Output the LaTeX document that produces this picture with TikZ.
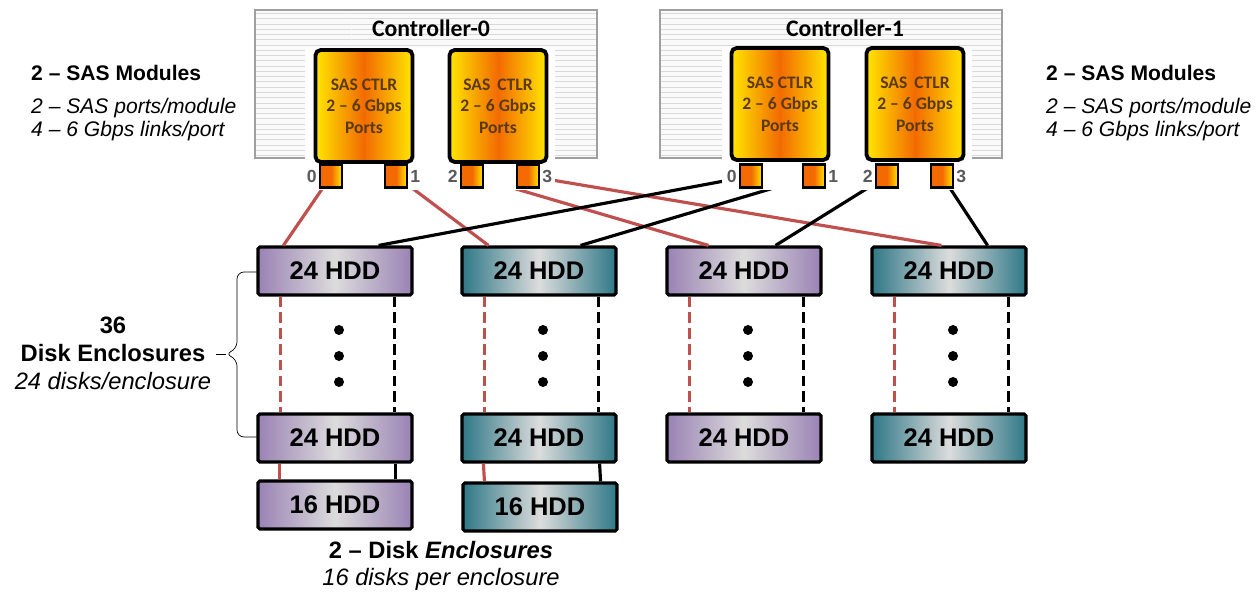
\documentclass[tikz,border=0pt]{standalone}
\usepackage{fontspec}
\setmainfont{Liberation Sans}
\newfontfamily\ctlrfont{Carlito}
\usetikzlibrary{calc,patterns}
\definecolor{linkred}{HTML}{C0504D}
\definecolor{encpurple}{HTML}{9A82B4}
\definecolor{encteal}{HTML}{2F7887}
\definecolor{encgray}{HTML}{DCDCDC}
\definecolor{modedge}{HTML}{FFE600}
\definecolor{modmid}{HTML}{F26A00}
\definecolor{ctlrtext}{HTML}{5A3A0C}

\begin{document}
\begin{tikzpicture}[x=0.02cm,y=-0.02cm,
  enc/.style={draw=black,line width=1.8pt,rounded corners=1pt,minimum width=3.08cm,minimum height=0.96cm,inner sep=0pt,font=\bfseries\fontsize{14.5}{16}\selectfont},
  encA/.style={enc,left color=encpurple,right color=encpurple,middle color=encgray},
  encB/.style={enc,left color=encteal,right color=encteal,middle color=encgray},
  ctlrbox/.style={draw=gray!75,line width=1pt,minimum width=6.84cm,minimum height=2.96cm,inner sep=0pt,
    preaction={fill=gray!4},pattern=horizontal lines,pattern color=gray!30},
  sasmod/.style={draw=black,line width=2.2pt,rounded corners=3pt,minimum width=1.94cm,minimum height=2.24cm,
    left color=modedge,right color=modedge,middle color=modmid,align=center,text=ctlrtext,
    font=\ctlrfont\bfseries\fontsize{10}{12.2}\selectfont},
  port/.style={draw=black,line width=1.5pt,minimum width=0.44cm,minimum height=0.46cm,inner sep=0pt,
    left color=modmid,right color=modedge,middle color=modmid},
  portlbl/.style={text=gray!70!black,font=\bfseries\fontsize{10}{12}\selectfont,inner sep=1pt},
  redlink/.style={draw=linkred,line width=1.8pt},
  blklink/.style={draw=black,line width=1.8pt},
  dashlink/.style={dash pattern=on 6pt off 3pt},
  note/.style={align=left,anchor=west,font=\fontsize{12}{13}\selectfont}
]
\useasboundingbox (0,0) rectangle (1260,594);

\node[encA] (e1a) at (335,271) {24 HDD};
\node[encB] (e2a) at (539,271) {24 HDD};
\node[encA] (e3a) at (744,271) {24 HDD};
\node[encB] (e4a) at (949,271) {24 HDD};
\node[encA] (e1b) at (335,438) {24 HDD};
\node[encB] (e2b) at (539,438) {24 HDD};
\node[encA] (e3b) at (744,438) {24 HDD};
\node[encB] (e4b) at (949,438) {24 HDD};
\node[encA] (e1c) at (335,505) {16 HDD};
\node[encB] (e2c) at (540,507) {16 HDD};

\node[ctlrbox] (c0) at (426,84) {};
\node[ctlrbox] (c1) at (831,84) {};
\node[font=\ctlrfont\bfseries\fontsize{13.5}{15}\selectfont] at (431,28) {Controller-0};
\node[font=\ctlrfont\bfseries\fontsize{13.5}{15}\selectfont] at (845,28) {Controller-1};

\coordinate (c0p0) at (331,176);
\coordinate (c0p1) at (396,176);
\coordinate (c0p2) at (472,176);
\coordinate (c0p3) at (528,176);
\coordinate (c1p0) at (751,176);
\coordinate (c1p1) at (814,176);
\coordinate (c1p2) at (887,176);
\coordinate (c1p3) at (942,176);

\draw[redlink] (c0p0) -- ([xshift=0.54cm]e1a.north west);
\draw[redlink] (c0p1) -- ([xshift=0.56cm]e2a.north west);
\draw[redlink] (c0p2) -- ([xshift=0.86cm]e3a.north west);
\draw[redlink] (c0p3) -- ([xshift=1.42cm]e4a.north west);
\draw[blklink] (c1p0) -- ([xshift=-0.7cm]e1a.north east);
\draw[blklink] (c1p1) -- ([xshift=-0.74cm]e2a.north east);
\draw[blklink] (c1p2) -- ([xshift=-0.94cm]e3a.north east);
\draw[blklink] (c1p3) -- ([xshift=-0.8cm]e4a.north east);

\fill[white] (305,48) rectangle (555,190);
\fill[white] (722,48) rectangle (972,190);

\node[sasmod] (c0m0) at (364,106) {SAS CTLR\\2 – 6 Gbps\\Ports};
\node[sasmod] (c0m1) at (498,106) {SAS \,CTLR\\2 – 6 Gbps\\Ports};
\node[sasmod] (c1m0) at (780,104) {SAS CTLR\\2 – 6 Gbps\\Ports};
\node[sasmod] (c1m1) at (915,104) {SAS \,CTLR\\2 – 6 Gbps\\Ports};

\node[port,label={[portlbl]left:0}] at (c0p0) {};
\node[port,label={[portlbl]right:1}] at (c0p1) {};
\node[port,label={[portlbl]left:2}] at (c0p2) {};
\node[port,label={[portlbl]right:3}] at (c0p3) {};
\node[port,label={[portlbl]left:0}] at (c1p0) {};
\node[port,label={[portlbl]right:1}] at (c1p1) {};
\node[port,label={[portlbl]left:2}] at (c1p2) {};
\node[port,label={[portlbl]right:3}] at (c1p3) {};

\foreach \c in {1,2,3,4} {
  \draw[redlink,dashlink] ([xshift=0.48cm]e\c a.south west) -- ([xshift=0.48cm]e\c b.north west);
  \draw[blklink,dashlink] ([xshift=-0.38cm]e\c a.south east) -- ([xshift=-0.38cm]e\c b.north east);
  \foreach \d in {0,26,52}
    \fill ([xshift=0.08cm,yshift=-1.18cm-\d*0.02cm]e\c a.center) circle (0.1cm);
}
\foreach \c in {1,2} {
  \draw[redlink] ([xshift=0.46cm]e\c b.south west) -- ([xshift=0.46cm]e\c c.north west);
  \draw[blklink] ([xshift=-0.36cm]e\c b.south east) -- ([xshift=-0.36cm]e\c c.north east);
}

% brace
\draw[rounded corners=4pt] (258,272) -- (237,272) -- (237,349) -- (225,354) -- (237,359) -- (237,437) -- (258,437);
\draw (216,354) -- (226,354);

\node[note] (smL) at (25,103) {\textbf{2 – SAS Modules}\\[6pt]\textit{2 – SAS ports/module}\\\textit{4 – 6 Gbps links/port}};
\node[note] (smR) at (1040,103) {\textbf{2 – SAS Modules}\\[6pt]\textit{2 – SAS ports/module}\\\textit{4 – 6 Gbps links/port}};
\node[align=center,font=\fontsize{13.5}{16}\selectfont] (deL) at (113,353) {\textbf{36}\\\textbf{Disk Enclosures}\\\textit{24 disks/enclosure}};
\node[align=center,font=\fontsize{13.5}{15.5}\selectfont] (deB) at (441,566) {\textbf{2 – Disk \textit{Enclosures}}\\\textit{16 disks per enclosure}};
\end{tikzpicture}
\end{document}
